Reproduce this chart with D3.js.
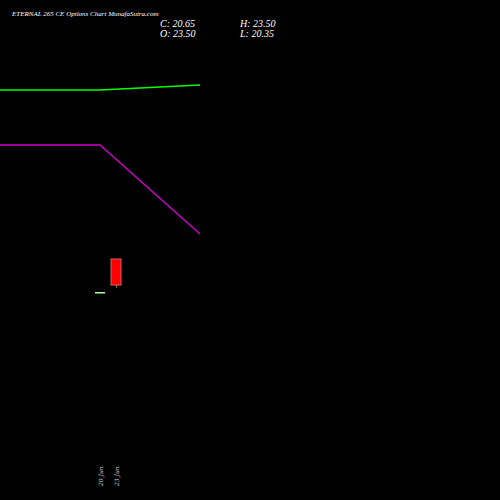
<!DOCTYPE html><html><head><script src="https://cdn.jsdelivr.net/npm/d3@7"></script>
<style>body{margin:0;background:#000}</style></head><body><svg id="c" width="500" height="500"></svg><script>
const dates=["20 Jun","23 Jun"];
const opens=[19.8,23.5], highs=[19.8,23.5], lows=[19.8,20.35], closes=[19.8,20.65];
const lineX=[0,1,2];
const greenLine=[90,90,85];
const magentaLine=[145,145,234];
const svg=d3.select("#c");
svg.append("rect").attr("width",500).attr("height",500).attr("fill","#000");
const x=d3.scaleLinear().domain([0,1]).range([100,116]);
const y=d3.scaleLinear().domain([20.65,23.5]).range([285,259]);
const lx=d3.scaleLinear().domain([0,2]).range([0,200]);
const ly=d3.scaleLinear().domain([0,500]).range([0,500]);
const ln=d3.line().x((d,i)=>lx(lineX[i])).y(d=>ly(d));
svg.append("path").attr("d",ln(greenLine)).attr("fill","none").attr("stroke","#00ff00").attr("stroke-width",1.5);
svg.append("path").attr("d",ln(magentaLine)).attr("fill","none").attr("stroke","#cc00cc").attr("stroke-width",1.5);
dates.forEach((d,i)=>{
  const up=closes[i]>=opens[i];
  const col=opens[i]===closes[i]?"#aaffaa":(up?"#00cc00":"#ff0000");
  svg.append("line").attr("x1",x(i)+0.5).attr("x2",x(i)+0.5).attr("y1",y(highs[i])).attr("y2",y(lows[i])).attr("stroke","#c66");
  const t=y(Math.max(opens[i],closes[i])),b=y(Math.min(opens[i],closes[i]));
  if(b-t<1){svg.append("line").attr("x1",x(i)-5).attr("x2",x(i)+5).attr("y1",t).attr("y2",t).attr("stroke",col).attr("stroke-width",1.5);}
  else svg.append("rect").attr("x",x(i)-5).attr("y",t).attr("width",10).attr("height",b-t).attr("fill",col).attr("stroke","#c66");
  svg.append("text").attr("transform",`translate(${x(i)+3},486) rotate(-90)`).attr("fill","#ccc").attr("font-size",6).attr("font-family","DejaVu Serif").attr("font-style","italic").text(d);
});
const tf="Liberation Serif";
svg.append("text").attr("x",12).attr("y",16).attr("fill","#fff").attr("font-size",7).attr("font-family",tf).attr("font-style","italic").text("ETERNAL 265 CE Options  Chart MunafaSutra.com");
[["C: 20.65",160,27],["H: 23.50",240,27],["O: 23.50",160,37],["L: 20.35",240,37]].forEach(t=>svg.append("text").attr("x",t[1]).attr("y",t[2]).attr("fill","#fff").attr("font-size",10).attr("font-family",tf).attr("font-style","italic").text(t[0]));
</script></body></html>
